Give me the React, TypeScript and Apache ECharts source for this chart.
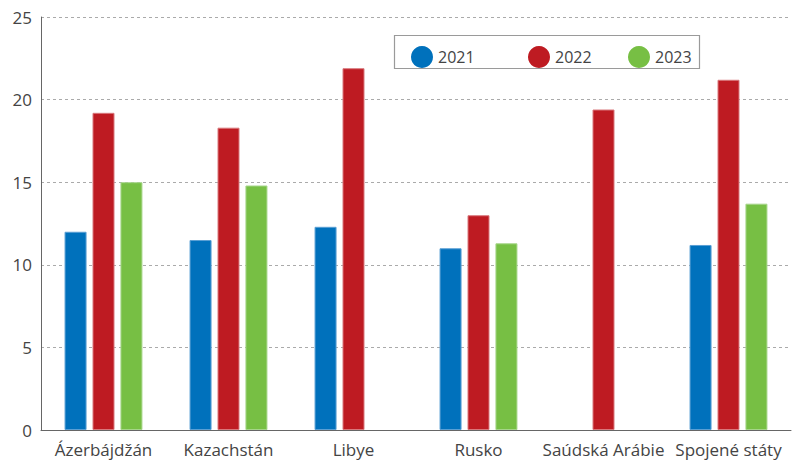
import React, { useEffect, useRef } from "react";
import * as echarts from "echarts";

const categories = ["Ázerbájdžán", "Kazachstán", "Libye", "Rusko", "Saúdská Arábie", "Spojené státy"];
const seriesNames = ["2021", "2022", "2023"];
const values2021 = [12.0, 11.5, 12.3, 11.0, null, 11.2];
const values2022 = [19.2, 18.3, 21.9, 13.0, 19.4, 21.2];
const values2023 = [15.0, 14.8, null, 11.3, null, 13.7];
const colors = ["#0071bc", "#be1b22", "#77bf44"];
const borderColors = ["#5a9fd4", "#d9787c", "#a6d58a"];
const FONT = "Open Sans";

export default function App() {
  const ref = useRef<HTMLDivElement>(null);
  useEffect(() => {
    if (!ref.current) return;
    const chart = echarts.init(ref.current, null, { renderer: "svg" });
    const data = [values2021, values2022, values2023];
    const legendLefts = [406, 523, 623];
    chart.setOption({
      animation: false,
      grid: { left: 41, right: 6, top: 17, bottom: 31, containLabel: false },
      legend: seriesNames.map((n, i) => ({
        data: [n],
        left: legendLefts[i],
        top: 41,
        icon: "circle",
        itemWidth: 22,
        itemHeight: 22,
        itemGap: 6,
        itemStyle: { borderWidth: 0, color: colors[i] },
        textStyle: { fontFamily: FONT, fontSize: 16, color: "#444" },
        selectedMode: false,
      })),
      graphic: [
        {
          type: "rect",
          shape: { x: 394.5, y: 35.5, width: 305, height: 33 },
          style: { fill: "none", stroke: "#9a9a9a", lineWidth: 1.2 },
          z: 0,
        },
      ],
      xAxis: {
        type: "category",
        data: categories,
        axisLine: { show: true, lineStyle: { color: "#666", width: 1 } },
        axisTick: { show: false },
        axisLabel: { fontFamily: FONT, fontSize: 17, color: "#444", margin: 11, interval: 0 },
      },
      yAxis: {
        type: "value",
        min: 0,
        max: 25,
        interval: 5,
        axisLine: { show: true, lineStyle: { color: "#666", width: 1 } },
        axisTick: { show: false },
        axisLabel: { fontFamily: FONT, fontSize: 17, color: "#444", margin: 9 },
        splitLine: { show: true, lineStyle: { color: "#aaa", type: [3, 3], width: 1 } },
      },
      series: seriesNames.map((n, i) => ({
        name: n,
        type: "bar",
        data: data[i],
        barWidth: 22,
        barGap: "27%",
        itemStyle: { color: colors[i], borderColor: borderColors[i], borderWidth: 1 },
      })),
    });
    return () => chart.dispose();
  }, []);
  return (
    <div
      ref={ref}
      style={{ position: "fixed", left: 0, top: 0, width: 797, height: 461, background: "#fff" }}
    />
  );
}
